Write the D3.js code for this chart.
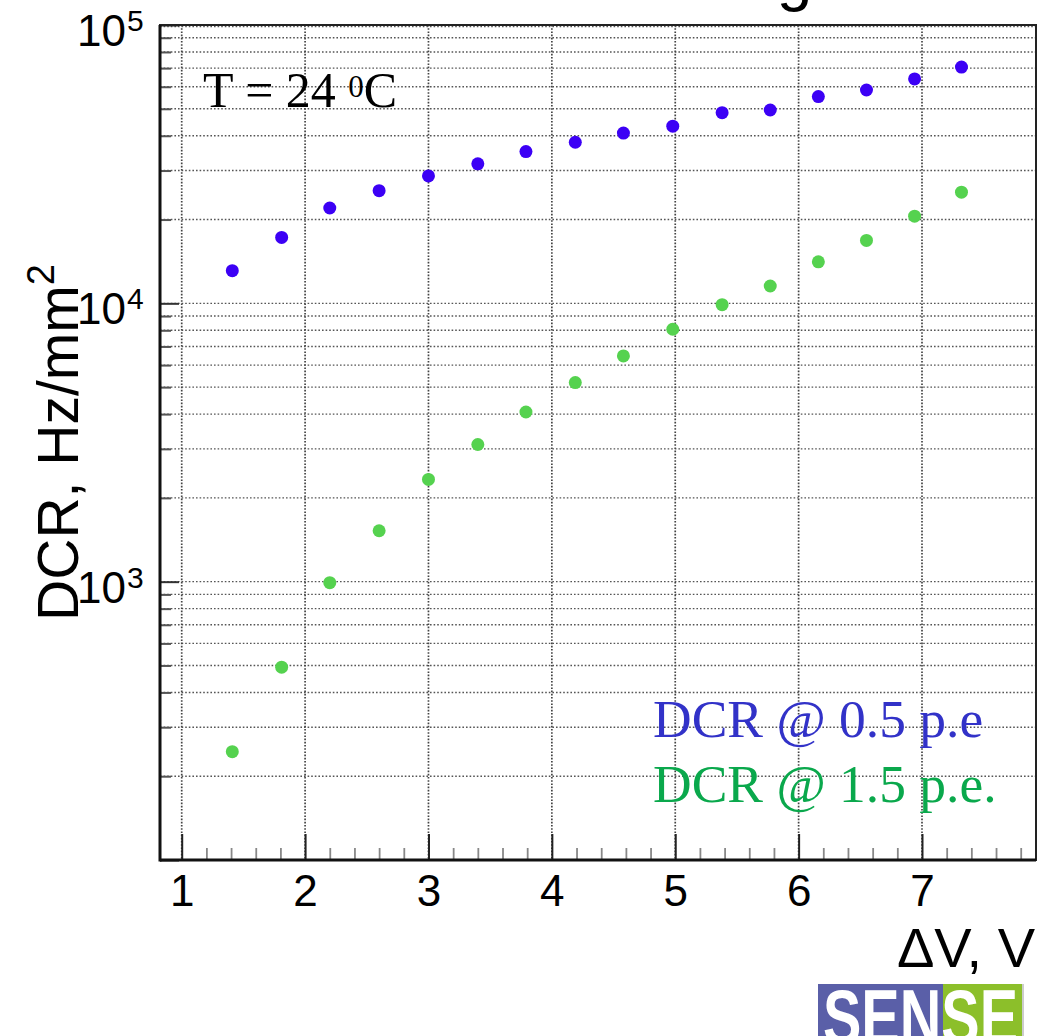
<!DOCTYPE html>
<html>
<head>
<meta charset="utf-8">
<script src="https://cdn.jsdelivr.net/npm/d3@7"></script>
<style>
  html, body { margin: 0; padding: 0; background: #fff; }
  svg { display: block; }
</style>
</head>
<body>
<svg id="chart" width="1043" height="1036"></svg>
<script>
// ---- data ----
const voltage = [1.41, 1.81, 2.20, 2.60, 3.00, 3.40, 3.79, 4.19, 4.58, 4.98, 5.38, 5.77, 6.16, 6.55, 6.94, 7.32];
const dcr05 = [13100, 17250, 22000, 25400, 28700, 31700, 35100, 37900, 40900, 43300, 48400, 49500, 55300, 58400, 64000, 70600];
const dcr15 = [245, 493, 992, 1524, 2330, 3110, 4070, 5190, 6470, 8070, 9890, 11540, 14100, 16830, 20570, 25080];
const xTickValues = [1, 2, 3, 4, 5, 6, 7];
const xMinorValues = [1.2,1.4,1.6,1.8,2.2,2.4,2.6,2.8,3.2,3.4,3.6,3.8,4.2,4.4,4.6,4.8,5.2,5.4,5.6,5.8,6.2,6.4,6.6,6.8,7.2,7.4,7.6,7.8];
const yDecades = [100, 1000, 10000, 100000];
const yLabelDecades = [1000, 10000, 100000];
const seriesNames = ["DCR @ 0.5 p.e", "DCR @ 1.5 p.e."];

// ---- layout ----
const L = 160, R = 1036, T = 25, B = 860;
const svg = d3.select("#chart");
const x = d3.scaleLinear().domain([0.824, 7.924]).range([L, R]);
const y = d3.scaleLog().domain([100, 100000]).range([B, T]);

const sans = "'Liberation Sans', Arial, Helvetica, sans-serif";
const serif = "'Liberation Serif', 'Times New Roman', serif";

// cut-off title (only a descender visible at the top edge)
svg.append("text").attr("x", 848).attr("y", -1).attr("text-anchor", "end")
  .attr("font-family", sans).attr("font-size", 64).attr("fill", "#000")
  .text("DCR vs. Overvoltage");

// ---- grid ----
const grid = svg.append("g");
const yMinor = y.ticks().filter(v => v > 100 && v < 100000);
grid.selectAll("line.h").data(yMinor).join("line")
  .attr("x1", L).attr("x2", R).attr("y1", d => y(d)).attr("y2", d => y(d))
  .attr("stroke", "#555").attr("stroke-width", 1.4).attr("stroke-dasharray", "1.6,2");
grid.append("line").attr("x1", L).attr("x2", R).attr("y1", y(100000) + 1.5).attr("y2", y(100000) + 1.5)
  .attr("stroke", "#555").attr("stroke-width", 1.4).attr("stroke-dasharray", "1.6,2");
grid.selectAll("line.v").data(xTickValues).join("line")
  .attr("x1", d => x(d)).attr("x2", d => x(d)).attr("y1", T).attr("y2", B)
  .attr("stroke", "#444").attr("stroke-width", 1.7).attr("stroke-dasharray", "1.6,1.6");

// ---- axes ticks ----
const xMajor = d3.axisBottom(x).tickValues(xTickValues).tickSize(-26).tickPadding(15).tickFormat(d3.format("d"));
const gx = svg.append("g").attr("transform", `translate(0,${B})`).call(xMajor);
gx.select(".domain").remove();
gx.selectAll(".tick line").attr("stroke", "#222").attr("stroke-width", 2);
gx.selectAll(".tick text").attr("font-family", sans).attr("font-size", 44).attr("fill", "#000");

const xMin = d3.axisBottom(x).tickValues(xMinorValues).tickSize(-12).tickFormat("");
const gxm = svg.append("g").attr("transform", `translate(0,${B})`).call(xMin);
gxm.select(".domain").remove();
gxm.selectAll(".tick line").attr("stroke", "#888").attr("stroke-width", 1.8);

const yMaj = d3.axisLeft(y).tickValues(yDecades).tickSize(-19).tickFormat("");
const gy = svg.append("g").attr("transform", `translate(${L},0)`).call(yMaj);
gy.select(".domain").remove();
gy.selectAll(".tick line").attr("stroke", "#333").attr("stroke-width", 2);

const yMin = d3.axisLeft(y).tickValues(yMinor.filter(v => !yDecades.includes(v))).tickSize(-11).tickFormat("");
const gym = svg.append("g").attr("transform", `translate(${L},0)`).call(yMin);
gym.select(".domain").remove();
gym.selectAll(".tick line").attr("stroke", "#555").attr("stroke-width", 2);

// y tick labels 10^n
const yl = svg.append("g");
yl.selectAll("text.base").data(yLabelDecades).join("text")
  .attr("x", 126).attr("y", d => y(d) + 21).attr("text-anchor", "end")
  .attr("font-family", sans).attr("font-size", 44).attr("fill", "#000").text("10");
yl.selectAll("text.exp").data(yLabelDecades).join("text")
  .attr("x", 127).attr("y", d => y(d) + 6).attr("text-anchor", "start")
  .attr("font-family", sans).attr("font-size", 30).attr("fill", "#000")
  .text(d => Math.round(Math.log10(d)));

// ---- frame ----
svg.append("rect").attr("x", L).attr("y", T).attr("width", R - L).attr("height", B - T)
  .attr("fill", "none").attr("stroke", "#222").attr("stroke-width", 2);
svg.append("line").attr("x1", L).attr("x2", L).attr("y1", T).attr("y2", B + 1.5).attr("stroke", "#111").attr("stroke-width", 3);
svg.append("line").attr("x1", L).attr("x2", R).attr("y1", B).attr("y2", B).attr("stroke", "#111").attr("stroke-width", 3);

// ---- points ----
const pts = svg.append("g");
pts.selectAll("circle.g").data(voltage).join("circle")
  .attr("cx", d => x(d)).attr("cy", (d, i) => y(dcr15[i])).attr("r", 6.5).attr("fill", "#55d24f");
pts.selectAll("circle.b").data(voltage).join("circle")
  .attr("cx", d => x(d)).attr("cy", (d, i) => y(dcr05[i])).attr("r", 6.5).attr("fill", "#3c00f5");

// ---- texts ----
const tt = svg.append("text").attr("x", 203).attr("y", 107)
  .attr("font-family", serif).attr("font-size", 50).attr("fill", "#000");
tt.append("tspan").text("T = 24 ");
tt.append("tspan").attr("font-size", 31).attr("dy", -10).text("0");
tt.append("tspan").attr("dy", 10).text("C");

svg.append("text").attr("x", 653).attr("y", 737)
  .attr("font-family", serif).attr("font-size", 53.5).attr("fill", "#3232c8").text(seriesNames[0]);
svg.append("text").attr("x", 653).attr("y", 802)
  .attr("font-family", serif).attr("font-size", 53.5).attr("fill", "#0aa84c").text(seriesNames[1]);

// axis titles
svg.append("text").attr("x", 1035).attr("y", 967).attr("text-anchor", "end")
  .attr("font-family", sans).attr("font-size", 56).attr("fill", "#000").text("\u0394V, V");

const yt = svg.append("text").attr("transform", `translate(78,${(T + B) / 2}) rotate(-90)`)
  .attr("text-anchor", "middle").attr("font-family", sans).attr("font-size", 57).attr("fill", "#000");
yt.append("tspan").text("DCR, Hz/mm");
yt.append("tspan").attr("font-size", 38).attr("dy", -24).text("2");

// ---- SENSE logo ----
const logo = svg.append("g");
logo.append("rect").attr("x", 818).attr("y", 984).attr("width", 125).attr("height", 60).attr("fill", "#5a5fa8");
logo.append("rect").attr("x", 943).attr("y", 984).attr("width", 80).attr("height", 60).attr("fill", "#8cbf2a");
logo.append("rect").attr("x", 1022).attr("y", 984).attr("width", 2).attr("height", 60).attr("fill", "#ccc");
logo.append("text").attr("x", 823).attr("y", 1044).attr("font-family", sans).attr("font-weight", "bold")
  .attr("font-size", 78).attr("fill", "#fff").attr("textLength", 195).attr("lengthAdjust", "spacingAndGlyphs").text("SENSE");
</script>
</body>
</html>
